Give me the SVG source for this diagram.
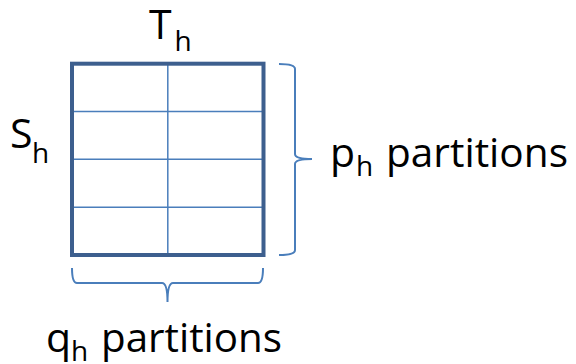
<svg xmlns="http://www.w3.org/2000/svg" width="576" height="364" viewBox="0 0 576 364">
<style>
.grid{fill:none;stroke:#4A7EBB;stroke-width:1.5}
.outer{fill:none;stroke:#3D5F8E;stroke-width:4}
.brace{fill:none;stroke:#4A7EBB;stroke-width:2}
.t{font-family:"Open Sans","Liberation Sans",sans-serif;fill:#000}
.m{font-size:41px}
.s{font-size:28px}
</style>
<rect width="576" height="364" fill="#fff"/>
<g id="matrix">
<line class="grid" x1="72" y1="111.5" x2="263.5" y2="111.5"/>
<line class="grid" x1="72" y1="159.3" x2="263.5" y2="159.3"/>
<line class="grid" x1="72" y1="207.2" x2="263.5" y2="207.2"/>
<line class="grid" x1="167.8" y1="63.7" x2="167.8" y2="255"/>
<rect class="outer" x="72" y="63.7" width="191.5" height="191.3"/>
</g>
<g id="connectors">
<path class="brace" d="M279,64 Q295,64 295,69 V154 Q295,159 312,159 Q295,159 295,164 V250 Q295,255 279,255"/>
<path class="brace" d="M72,268 Q72,283 77,283 H162 Q167.5,283 167.5,302 Q167.5,283 173,283 H258 Q263,283 263,268"/>
</g>
<g id="label-T">
<text class="t m" x="149" y="39">T</text>
<text class="t s" x="174.5" y="51">h</text>
</g>
<g id="label-S">
<text class="t m" x="10" y="148">S</text>
<text class="t s" x="32" y="163">h</text>
</g>
<g id="label-p">
<text class="t m" x="330" y="167">p</text>
<text class="t s" x="356" y="176">h</text>
<text class="t m" x="386" y="167" textLength="182" lengthAdjust="spacingAndGlyphs">partitions</text>
</g>
<g id="label-q">
<text class="t m" x="46" y="352">q</text>
<text class="t s" x="71" y="361">h</text>
<text class="t m" x="101" y="352" textLength="181" lengthAdjust="spacingAndGlyphs">partitions</text>
</g>
</svg>
